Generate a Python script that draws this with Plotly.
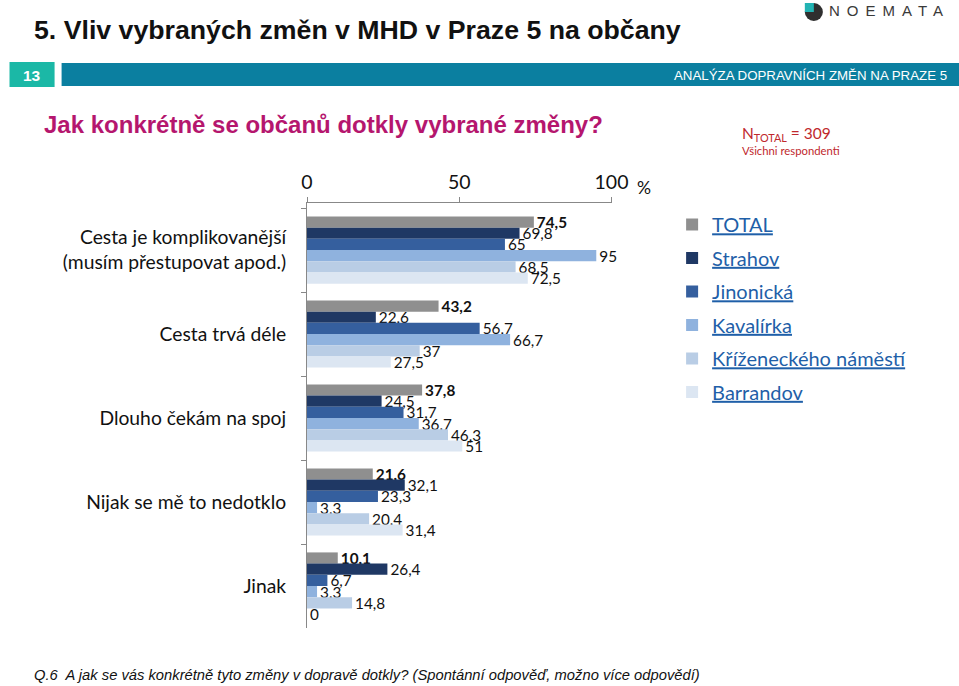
import plotly.graph_objects as go

categories = [
    "Cesta je komplikovanější<br>(musím přestupovat apod.)",
    "Cesta trvá déle",
    "Dlouho čekám na spoj",
    "Nijak se mě to nedotklo",
    "Jinak",
]
series_names = ["TOTAL", "Strahov", "Jinonická", "Kavalírka", "Kříženeckého náměstí", "Barrandov"]
total = [74.5, 43.2, 37.8, 21.6, 10.1]
strahov = [69.8, 22.6, 24.5, 32.1, 26.4]
jinonicka = [65, 56.7, 31.7, 23.3, 6.7]
kavalirka = [95, 66.7, 36.7, 3.3, 3.3]
krizeneckeho = [68.5, 37, 46.3, 20.4, 14.8]
barrandov = [72.5, 27.5, 51, 31.4, 0]
series_values = [total, strahov, jinonicka, kavalirka, krizeneckeho, barrandov]
x_ticks = [0, 50, 100]

colors = ["#8f8f8f", "#1f3864", "#355f9e", "#8fb2de", "#b9cde5", "#dce6f2"]

# page geometry (the captured picture maps page x -> 6.5 + 0.975 x)
PW, H = 984, 686
OFF, S = 6.5, 0.975
def px(x):
    return ((x - OFF) / S) / PW
def py(y):
    return 1 - y / H

FONT = "Lato, Carlito, sans-serif"
SANS = "Liberation Sans, Arial, sans-serif"

def fmt(v):
    return ("%g" % v).replace(".", ",")

fig = go.Figure()
for i, (name, vals) in enumerate(zip(series_names, series_values)):
    if i == 0:
        txt = ["<b>%s</b>" % fmt(v) for v in vals]
    else:
        txt = [fmt(v) for v in vals]
    fig.add_trace(go.Bar(
        name="<u>%s</u>" % name,
        y=categories, x=vals, orientation="h",
        marker=dict(color=colors[i], line=dict(width=0)),
        text=txt, textposition="outside", cliponaxis=False, constraintext="none",
        textfont=dict(family=FONT, size=15.3, color="#111111"),
        legendgroup="g%d" % i,
        hoverinfo="x+name",
    ))

fig.update_layout(
    width=PW, height=H, autosize=False,
    margin=dict(l=0, r=0, t=0, b=0),
    paper_bgcolor="white", plot_bgcolor="white",
    barmode="group", bargap=0.2, bargroupgap=0,
    showlegend=True,
    legend=dict(x=px(691) - 20 / PW, y=py(205), xanchor="left", yanchor="top",
                font=dict(family=FONT, size=20, color="#1f5fa8"),
                tracegroupgap=4.5, traceorder="grouped",
                bgcolor="rgba(0,0,0,0)", itemclick=False),
    xaxis=dict(domain=[px(307), px(611)], range=[0, 100], side="top",
               tickvals=x_ticks, ticktext=[str(t) for t in x_ticks],
               ticks="outside", ticklen=5, tickcolor="#888888",
               showline=True, linecolor="#888888", linewidth=1,
               showgrid=False, zeroline=False,
               tickfont=dict(family=FONT, size=19.5, color="#111111")),
    yaxis=dict(domain=[py(628), py(203)], type="category",
               range=[4.5, -0.56],
               ticks="outside", tickson="boundaries", ticklen=5, tickcolor="#888888",
               showline=True, linecolor="#888888", linewidth=1,
               showgrid=False, zeroline=False, ticklabelstandoff=16,
               tickfont=dict(family=FONT, size=19.3, color="#111111")),
)

shapes = [
    dict(type="rect", xref="paper", yref="paper", x0=px(10), x1=px(55), y0=py(87), y1=py(62),
         fillcolor="#1bb8a6", line=dict(width=0)),
    dict(type="rect", xref="paper", yref="paper", x0=px(62), x1=1, y0=py(86), y1=py(63),
         fillcolor="#0b7fa0", line=dict(width=0)),
    dict(type="circle", xref="paper", yref="paper", x0=px(804), x1=px(822), y0=py(21), y1=py(3),
         fillcolor="#2f2f2f", line=dict(width=0)),
    dict(type="rect", xref="paper", yref="paper", x0=px(804), x1=px(813), y0=py(12), y1=py(3),
         fillcolor="#22b3b3", line=dict(width=0)),
]
fig.update_layout(shapes=shapes)

annotations = [
    dict(text="<b>5. Vliv vybraných změn v MHD v Praze 5 na občany</b>", x=px(32), y=py(30),
         xanchor="left", yanchor="middle", font=dict(family=SANS, size=26.7, color="#111111")),
    dict(text='<span style="letter-spacing:7px">NOEMATA</span>', x=px(826), y=py(11), xanchor="left", yanchor="middle",
         font=dict(family=SANS, size=15, color="#3a3a3a")),
    dict(text="<b>13</b>", x=px(32), y=py(75), xanchor="center", yanchor="middle",
         font=dict(family=SANS, size=15.5, color="white")),
    dict(text="ANALÝZA DOPRAVNÍCH ZMĚN NA PRAZE 5", x=px(948), y=py(75), xanchor="right", yanchor="middle",
         font=dict(family=SANS, size=13.3, color="white")),
    dict(text="<b>Jak konkrétně se občanů dotkly vybrané změny?</b>", x=px(42), y=py(124),
         xanchor="left", yanchor="middle", font=dict(family=SANS, size=24, color="#b5166e")),
    dict(text="N<sub>TOTAL</sub> = 309", x=px(739), y=py(134), xanchor="left", yanchor="middle",
         font=dict(family=FONT, size=15.5, color="#c0282d")),
    dict(text="Všichni respondenti", x=px(739), y=py(150), xanchor="left", yanchor="middle",
         font=dict(family=FONT, size=11.3, color="#c0282d")),
    dict(text="%", x=px(634), y=py(188), xanchor="left", yanchor="middle",
         font=dict(family=FONT, size=17.5, color="#111111")),
    dict(text="<i>Q.6  A jak se vás konkrétně tyto změny v dopravě dotkly? (Spontánní odpověď, možno více odpovědí)</i>",
         x=px(32), y=py(675), xanchor="left", yanchor="middle",
         font=dict(family=SANS, size=14.75, color="#111111")),
]
for a in annotations:
    a.update(xref="paper", yref="paper", showarrow=False)
fig.update_layout(annotations=annotations)

post = ("document.body.style.margin='0';document.body.style.padding='0';"
        "document.body.style.overflow='hidden';document.documentElement.style.overflow='hidden';")
fig.write_html("out.html", post_script=post, config={"displayModeBar": False, "responsive": False})
